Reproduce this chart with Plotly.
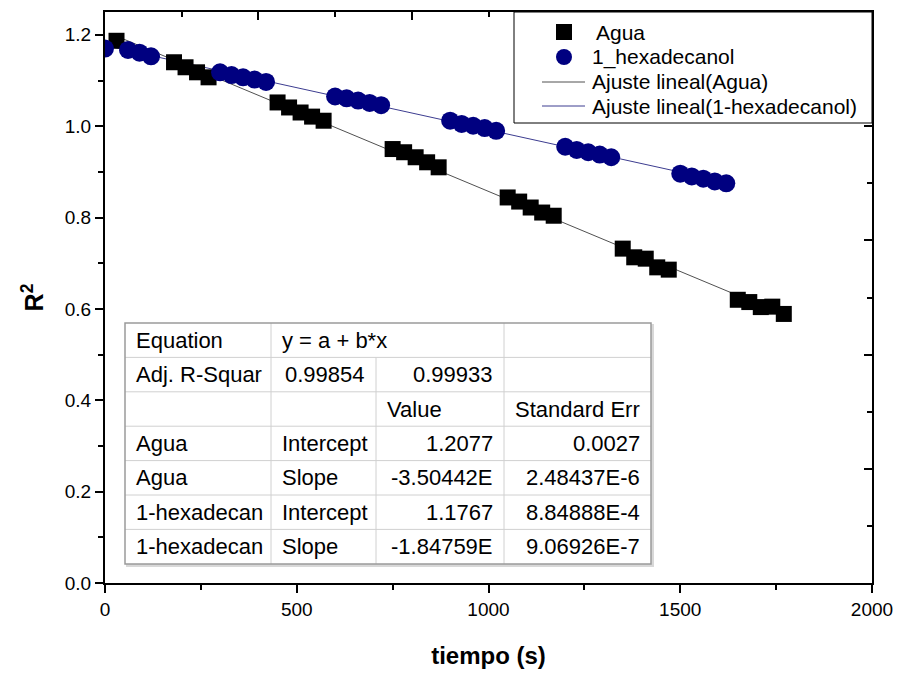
import plotly.graph_objects as go

# ---------------- data ----------------
agua_t = [30, 180, 210, 240, 270, 450, 480, 510, 540, 570, 750, 780, 810, 840, 870,
          1050, 1080, 1110, 1140, 1170, 1350, 1380, 1410, 1440, 1470,
          1650, 1680, 1710, 1740, 1770]
agua_r2 = [1.187, 1.140, 1.129, 1.118, 1.107, 1.052, 1.041, 1.030, 1.021, 1.012,
           0.950, 0.943, 0.932, 0.921, 0.910, 0.844, 0.835, 0.822, 0.811, 0.804,
           0.732, 0.713, 0.710, 0.691, 0.686, 0.620, 0.615, 0.604, 0.605, 0.589]

hexa_t = [0, 60, 90, 120, 300, 330, 360, 390, 420, 600, 630, 660, 690, 720,
          900, 930, 960, 990, 1020, 1200, 1230, 1260, 1290, 1320,
          1500, 1530, 1560, 1590, 1620]
hexa_r2 = [1.170, 1.167, 1.161, 1.153, 1.118, 1.112, 1.107, 1.102, 1.097,
           1.065, 1.061, 1.056, 1.051, 1.046, 1.012, 1.005, 1.001, 0.996, 0.990,
           0.955, 0.948, 0.943, 0.938, 0.932, 0.896, 0.890, 0.885, 0.879, 0.875]

agua_intercept, agua_slope = 1.2077, -3.50442e-4
hexa_intercept, hexa_slope = 1.1767, -1.84759e-4

legend_labels = ["Agua", "1_hexadecanol", "Ajuste lineal(Agua)", "Ajuste lineal(1-hexadecanol)"]

table_rows = [
    ["Equation", "y = a + b*x", "", ""],
    ["Adj. R-Squar", "0.99854", "0.99933", ""],
    ["", "", "Value", "Standard Err"],
    ["Agua", "Intercept", "1.2077", "0.0027"],
    ["Agua", "Slope", "-3.50442E", "2.48437E-6"],
    ["1-hexadecan", "Intercept", "1.1767", "8.84888E-4"],
    ["1-hexadecan", "Slope", "-1.84759E", "9.06926E-7"],
]
table_align = [
    ["l", "l", "l", "l"],
    ["l", "r", "r", "l"],
    ["l", "l", "l", "l"],
    ["l", "l", "r", "r"],
    ["l", "l", "r", "r"],
    ["l", "l", "r", "r"],
    ["l", "l", "r", "r"],
]

x_title = "tiempo (s)"
y_title = "R<sup>2</sup>"

# ---------------- styling / layout ----------------
W, H = 901, 673
ML, MR, MT, MB = 105, 29, 12, 90
PW, PH = W - ML - MR, H - MT - MB
FONT = "Liberation Sans, Arial, sans-serif"
NAVY = "#000080"
FIT_AGUA = "#505050"
FIT_HEXA = "#3c3c90"


def px(xp):
    return (xp - ML) / PW


def py(yp):
    return (H - MB - yp) / PH


fit_agua_x = [min(agua_t), max(agua_t)]
fit_hexa_x = [min(hexa_t), max(hexa_t)]

fig = go.Figure()
fig.add_trace(go.Scatter(x=fit_agua_x, y=[agua_intercept + agua_slope * v for v in fit_agua_x],
                         mode="lines", line=dict(color=FIT_AGUA, width=1), showlegend=False,
                         name=legend_labels[2]))
fig.add_trace(go.Scatter(x=fit_hexa_x, y=[hexa_intercept + hexa_slope * v for v in fit_hexa_x],
                         mode="lines", line=dict(color=FIT_HEXA, width=1), showlegend=False,
                         name=legend_labels[3]))
fig.add_trace(go.Scatter(x=agua_t, y=agua_r2, mode="markers", name=legend_labels[0],
                         marker=dict(symbol="square", size=16, color="black", line=dict(width=0)),
                         showlegend=False))
fig.add_trace(go.Scatter(x=hexa_t, y=hexa_r2, mode="markers", name=legend_labels[1],
                         marker=dict(symbol="circle", size=18, color=NAVY, line=dict(width=0)),
                         showlegend=False))
# carrier for the mirrored frame axes
fig.add_trace(go.Scatter(x=[], y=[], xaxis="x2", yaxis="y2", showlegend=False))

shapes = []
annotations = []

# ---------- legend (drawn manually to match the original box) ----------
LG_L, LG_R, LG_T, LG_B = 514, 872, 12, 123
shapes.append(dict(type="rect", xref="paper", yref="paper", x0=px(LG_L), x1=px(LG_R),
                   y0=py(LG_B), y1=py(LG_T), line=dict(color="black", width=1),
                   fillcolor="white", layer="above"))
row_y = [32, 57, 82, 106]
sym_x = 564
text_x = [594, 590, 590, 590]
# square key
shapes.append(dict(type="rect", xref="paper", yref="paper", x0=px(sym_x - 8), x1=px(sym_x + 8),
                   y0=py(row_y[0] + 8), y1=py(row_y[0] - 8), line=dict(width=0),
                   fillcolor="black", layer="above"))
# circle key
shapes.append(dict(type="circle", xref="paper", yref="paper", x0=px(sym_x - 8), x1=px(sym_x + 8),
                   y0=py(row_y[1] + 8), y1=py(row_y[1] - 8), line=dict(width=0),
                   fillcolor=NAVY, layer="above"))
for ry, col in zip(row_y[2:], [FIT_AGUA, FIT_HEXA]):
    shapes.append(dict(type="line", xref="paper", yref="paper", x0=px(542), x1=px(585),
                       y0=py(ry), y1=py(ry), line=dict(color=col, width=1), layer="above"))
for lab, ry, tx in zip(legend_labels, row_y, text_x):
    annotations.append(dict(text=lab, xref="paper", yref="paper", x=px(tx), y=py(ry),
                            xanchor="left", yanchor="middle", showarrow=False,
                            font=dict(family=FONT, size=21, color="black")))

# ---------- fit-result table ----------
col_edges = [125, 271, 376, 504, 651]
row_edges = [323, 357.4, 391.8, 426.2, 460.6, 495, 529.4, 564]
PAD = 9
shapes.append(dict(type="rect", xref="paper", yref="paper", x0=px(col_edges[0] + 2), x1=px(col_edges[-1] + 2),
                   y0=py(row_edges[-1] + 2), y1=py(row_edges[0] + 2), line=dict(color="#d8d8d8", width=2),
                   fillcolor="#d8d8d8", layer="above"))
shapes.append(dict(type="rect", xref="paper", yref="paper", x0=px(col_edges[0]), x1=px(col_edges[-1]),
                   y0=py(row_edges[-1]), y1=py(row_edges[0]), line=dict(width=0),
                   fillcolor="white", layer="above"))
for r in row_edges[1:-1]:
    shapes.append(dict(type="line", xref="paper", yref="paper", x0=px(col_edges[0]), x1=px(col_edges[-1]),
                       y0=py(r), y1=py(r), line=dict(color="#d0d0d0", width=1), layer="above"))
for ci, c in enumerate(col_edges[1:-1], start=1):
    top = row_edges[1] if ci == 2 else row_edges[0]
    shapes.append(dict(type="line", xref="paper", yref="paper", x0=px(c), x1=px(c),
                       y0=py(row_edges[-1]), y1=py(top), line=dict(color="#d0d0d0", width=1), layer="above"))
shapes.append(dict(type="rect", xref="paper", yref="paper", x0=px(col_edges[0]), x1=px(col_edges[-1]),
                   y0=py(row_edges[-1]), y1=py(row_edges[0]), line=dict(color="#9a9a9a", width=1.5),
                   layer="above"))
for ri, (row, al) in enumerate(zip(table_rows, table_align)):
    yc = (row_edges[ri] + row_edges[ri + 1]) / 2
    for ci, (txt, a) in enumerate(zip(row, al)):
        if not txt:
            continue
        if a == "l":
            xpos, xa = col_edges[ci] + PAD, "left"
        else:
            xpos, xa = col_edges[ci + 1] - PAD, "right"
        annotations.append(dict(text=txt, xref="paper", yref="paper", x=px(xpos), y=py(yc),
                                xanchor=xa, yanchor="middle", showarrow=False,
                                font=dict(family=FONT, size=22, color="black")))

axis_common = dict(showline=True, linecolor="black", linewidth=2, showgrid=False, zeroline=False,
                   tickcolor="black", tickwidth=2)

fig.update_layout(
    width=W, height=H,
    margin=dict(l=ML, r=MR, t=MT, b=MB, autoexpand=False),
    paper_bgcolor="white", plot_bgcolor="white",
    font=dict(family=FONT, size=19, color="black"),
    showlegend=False,
    xaxis=dict(range=[0, 2000], dtick=500, tick0=0, ticks="outside", ticklen=8,
               minor=dict(dtick=250, ticks="outside", ticklen=5, tickwidth=2, tickcolor="black"),
               title=dict(text=x_title, font=dict(size=24, family=FONT, weight="bold"), standoff=28),
               tickfont=dict(size=19), **axis_common),
    yaxis=dict(range=[0, 1.25], dtick=0.2, tick0=0, ticks="outside", ticklen=8, tickformat=".1f",
               minor=dict(dtick=0.1, ticks="outside", ticklen=5, tickwidth=2, tickcolor="black"),
               title=dict(text=y_title, font=dict(size=25, family=FONT, weight="bold"), standoff=14),
               tickfont=dict(size=19), **axis_common),
    xaxis2=dict(overlaying="x", side="top", anchor="y2", range=[0, 2000], dtick=400, tick0=0,
                ticks="inside", ticklen=8, showticklabels=False,
                minor=dict(dtick=200, ticks="inside", ticklen=5, tickwidth=2, tickcolor="black"),
                **axis_common),
    yaxis2=dict(overlaying="y", side="right", anchor="x2", range=[0, 1.25], dtick=0.25, tick0=0,
                ticks="inside", ticklen=8, showticklabels=False,
                minor=dict(dtick=0.125, ticks="inside", ticklen=5, tickwidth=2, tickcolor="black"),
                **axis_common),
    shapes=shapes,
    annotations=annotations,
)

fig.write_html("out.html")
